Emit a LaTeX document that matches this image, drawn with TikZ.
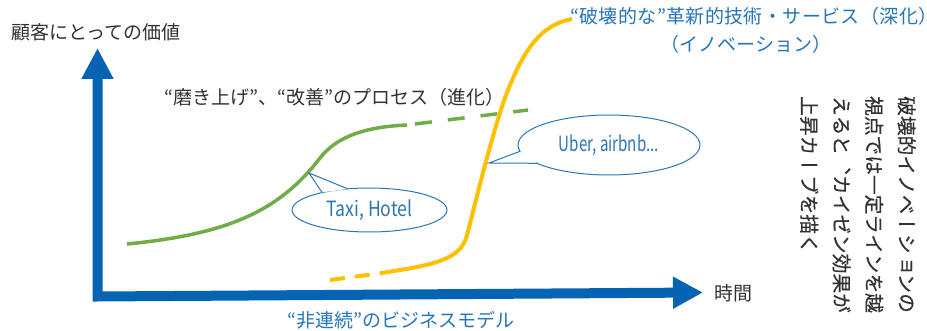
\documentclass[tikz,border=0pt]{standalone}
\usepackage{fontspec}
\setmainfont{Noto Sans CJK JP}
\newfontfamily\jpfont{Noto Sans CJK JP}
\newfontfamily\jpspaced[LetterSpace=2]{Noto Sans CJK JP}
\newfontfamily\vjpfont[Vertical=RotatedGlyphs, FakeBold=0.6]{Noto Sans CJK JP}
\newfontfamily\condfont[FakeStretch=0.72]{Noto Sans CJK JP}
\newfontfamily\condfontb[FakeStretch=0.84]{Noto Sans CJK JP}
\usetikzlibrary{arrows.meta,shapes.geometric}
\definecolor{axisblue}{RGB}{5,99,180}
\definecolor{textblue}{RGB}{38,116,186}
\definecolor{darktext}{RGB}{50,50,50}
\definecolor{kgreen}{RGB}{112,173,71}
\definecolor{korange}{RGB}{255,192,0}
\definecolor{callblue}{RGB}{46,117,182}
\tikzset{
  lbl/.style={font=\jpfont\fontsize{19pt}{23pt}\selectfont, text=darktext, inner sep=0pt},
  bluelbl/.style={font=\jpfont\fontsize{19pt}{28pt}\selectfont, text=textblue, inner sep=0pt},
  vtext/.style={font=\vjpfont\fontsize{19.7pt}{32.5pt}\selectfont, text=darktext, inner sep=0pt, align=left},
  callbox/.style={ellipse, draw=callblue, line width=1pt, fill=white, text=callblue,
    font=\condfont\fontsize{21pt}{24pt}\selectfont, inner sep=0pt},
  pointerline/.style={draw=callblue, line width=1pt, line join=miter},
  axisline/.style={draw=axisblue, line width=10pt, line join=miter,
    {Triangle[width=30pt,length=31pt]}-{Triangle[width=30pt,length=30pt]}},
  greenline/.style={draw=kgreen, line width=3.5pt},
  orangeline/.style={draw=korange, line width=4pt},
}
\begin{document}
\begin{tikzpicture}[x=1pt,y=-1pt]
\useasboundingbox (0,0) rectangle (927,331);

% axes
\coordinate (ytip) at (97.5,48);
\coordinate (corner) at (97.5,296.5);
\coordinate (xtip) at (703,292.5);
\draw[axisline] (ytip) -- (corner) -- (xtip);

% labels
\node[lbl, anchor=west] (ylabel) at (11,32) {顧客にとっての価値};
\node[lbl, anchor=west] (xlabel) at (714,293) {時間};
\node[bluelbl] (bottomlabel) at (401,320) {“非連続”のビジネスモデル};
\node[lbl, anchor=west] (kaizen) at (164,97) {“磨き上げ”、“改善”のプロセス（進化）};
\node[bluelbl, anchor=west, font=\jpspaced\fontsize{19pt}{28pt}\selectfont] (top1) at (570,16) {“破壊的な”革新的技術・サービス（深化）\kern-12pt};
\node[bluelbl] (top2) at (746,44) {（イノベーション）};

% green curve
\coordinate (g0) at (127,244);
\coordinate (g1) at (320,158);
\coordinate (g2) at (407,125);
\coordinate (g3) at (415,124);
\coordinate (g4) at (528,110);
\draw[greenline] (g0) .. controls (230,234) and (280,210) .. (g1)
  .. controls (335,139) and (360,127) .. (g2);
\draw[greenline, dash pattern=on 17pt off 16pt] (g3) -- (g4);

% orange curve
\coordinate (o0) at (330,280);
\coordinate (o1) at (382,273);
\coordinate (o2) at (467,235);
\coordinate (o3) at (510,85);
\coordinate (o4) at (572,19);
\draw[orangeline, dash pattern=on 15pt off 10pt] (o0) -- (o1);
\draw[orangeline] (o1) -- (397,270.5) .. controls (445,263) and (462,255) .. (o2)
  .. controls (475,205) and (495,120) .. (o3)
  .. controls (525,50) and (540,25) .. (o4);

% callout Taxi, Hotel
\node[callbox, font=\condfontb\fontsize{21pt}{24pt}\selectfont, minimum width=155pt, minimum height=44pt] (taxi) at (369.5,210) {Taxi, Hotel};
\coordinate (taxitip) at (309,173);
\coordinate (taxib1) at (322,192.4);
\coordinate (taxib2) at (348,188.9);
\fill[white] (taxib1) -- (taxitip) -- (taxib2) -- cycle;
\draw[pointerline] (taxib1) -- (taxitip) -- (taxib2);

% callout Uber
\node[callbox, minimum width=182pt, minimum height=60pt] (uber) at (609,145) {Uber, airbnb...};
\coordinate (ubertip) at (489,163);
\coordinate (uberb1) at (520,151.3);
\coordinate (uberb2) at (537,163.3);
\fill[white] (uberb1) -- (ubertip) -- (uberb2) -- cycle;
\draw[pointerline] (uberb1) -- (ubertip) -- (uberb2);

% vertical text
\node[vtext, rotate=-90, anchor=north west] (vert) at (916,96)
  {破壊的イノベーションの\\視点では一定ラインを越\\えると、カイゼン効果が\\上昇カーブを描く};
\end{tikzpicture}
\end{document}
